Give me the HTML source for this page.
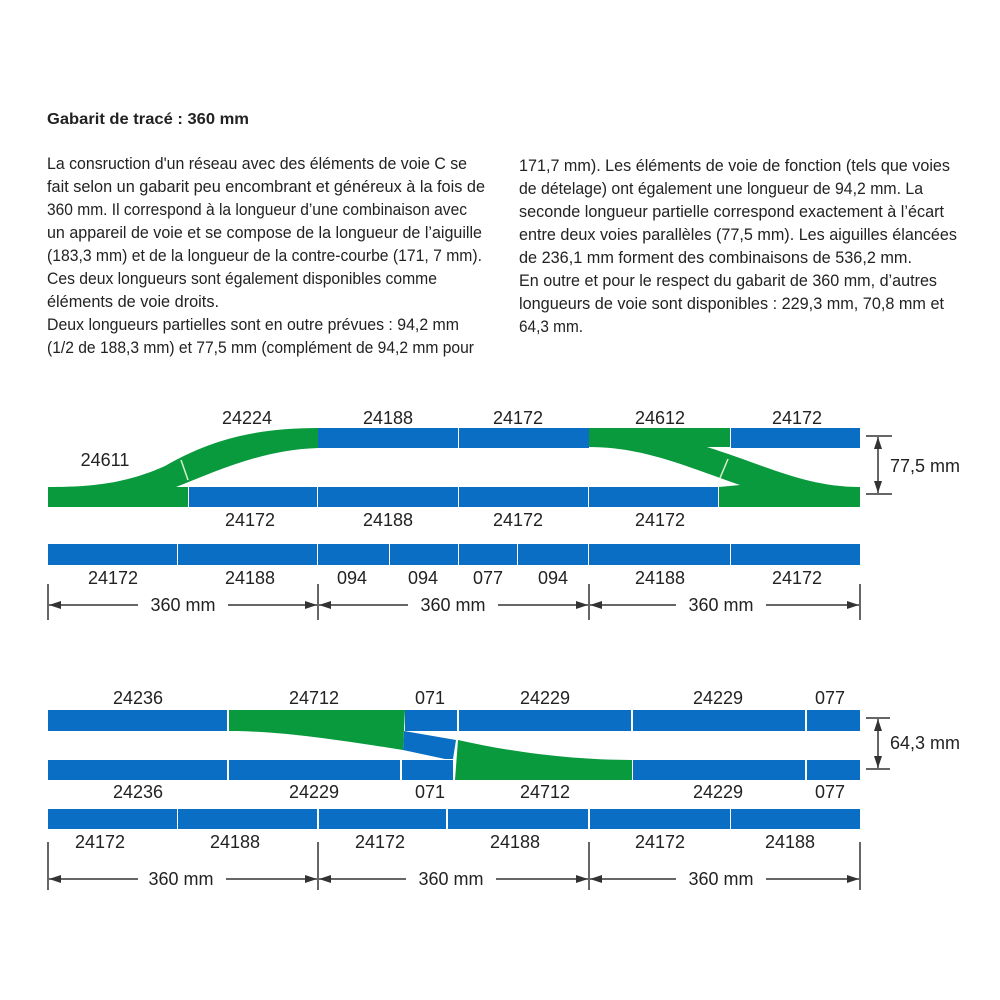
<!DOCTYPE html>
<html><head><meta charset="utf-8"><style>
html,body{margin:0;padding:0;background:#fff;}
svg{display:block;}
text{font-family:"Liberation Sans",Arial,sans-serif;fill:#222;}
</style></head><body>
<svg width="1000" height="1000" viewBox="0 0 1000 1000" xmlns="http://www.w3.org/2000/svg">
<rect width="1000" height="1000" fill="#fff"/>
<text x="47" y="124" font-size="16" font-weight="bold" textLength="202" lengthAdjust="spacingAndGlyphs">Gabarit de tracé : 360 mm</text>
<g font-size="17">
<text x="47" y="169" textLength="420" lengthAdjust="spacingAndGlyphs">La consruction d'un réseau avec des éléments de voie C se</text>
<text x="47" y="192" textLength="438" lengthAdjust="spacingAndGlyphs">fait selon un gabarit peu encombrant et généreux à la fois de</text>
<text x="47" y="215" textLength="420" lengthAdjust="spacingAndGlyphs">360 mm. Il correspond à la longueur d’une combinaison avec</text>
<text x="47" y="238" textLength="435" lengthAdjust="spacingAndGlyphs">un appareil de voie et se compose de la longueur de l’aiguille</text>
<text x="47" y="261" textLength="435" lengthAdjust="spacingAndGlyphs">(183,3 mm) et de la longueur de la contre-courbe (171, 7 mm).</text>
<text x="47" y="284" textLength="390" lengthAdjust="spacingAndGlyphs">Ces deux longueurs sont également disponibles comme</text>
<text x="47" y="307" textLength="172" lengthAdjust="spacingAndGlyphs">éléments de voie droits.</text>
<text x="47" y="330" textLength="412" lengthAdjust="spacingAndGlyphs">Deux longueurs partielles sont en outre prévues : 94,2 mm</text>
<text x="47" y="353" textLength="427" lengthAdjust="spacingAndGlyphs">(1/2 de 188,3 mm) et 77,5 mm (complément de 94,2 mm pour</text>
<text x="519" y="171" textLength="431" lengthAdjust="spacingAndGlyphs">171,7 mm). Les éléments de voie de fonction (tels que voies</text>
<text x="519" y="194" textLength="404" lengthAdjust="spacingAndGlyphs">de dételage) ont également une longueur de 94,2 mm. La</text>
<text x="519" y="217" textLength="425" lengthAdjust="spacingAndGlyphs">seconde longueur partielle correspond exactement à l’écart</text>
<text x="519" y="240" textLength="438" lengthAdjust="spacingAndGlyphs">entre deux voies parallèles (77,5 mm). Les aiguilles élancées</text>
<text x="519" y="263" textLength="393" lengthAdjust="spacingAndGlyphs">de 236,1 mm  forment des combinaisons de 536,2 mm.</text>
<text x="519" y="286" textLength="418" lengthAdjust="spacingAndGlyphs">En outre et pour le respect du gabarit de 360 mm, d’autres</text>
<text x="519" y="309" textLength="425" lengthAdjust="spacingAndGlyphs">longueurs de voie sont disponibles : 229,3 mm, 70,8 mm et</text>
<text x="519" y="332" textLength="64" lengthAdjust="spacingAndGlyphs">64,3 mm.</text>
</g>

<defs>
<marker id="ar" viewBox="0 0 12 8" refX="12" refY="4" markerWidth="12" markerHeight="8" markerUnits="userSpaceOnUse" orient="auto-start-reverse"><path d="M0,0 L12,4 L0,8 Z" fill="#333"/></marker>
</defs>

<!-- ===== upper diagram ===== -->
<g fill="#0a6fc4">
<rect x="318" y="428" width="140" height="20"/><rect x="459" y="428" width="130" height="20"/><rect x="731" y="428" width="129" height="20"/>
<rect x="189" y="487" width="128" height="20"/><rect x="318" y="487" width="140" height="20"/><rect x="459" y="487" width="129" height="20"/><rect x="589" y="487" width="129" height="20"/>
<rect x="48" y="544" width="129" height="21"/><rect x="178" y="544" width="139" height="21"/><rect x="318" y="544" width="71" height="21"/><rect x="390" y="544" width="68" height="21"/><rect x="459" y="544" width="58" height="21"/><rect x="518" y="544" width="70" height="21"/><rect x="589" y="544" width="141" height="21"/><rect x="731" y="544" width="129" height="21"/>
</g>
<g fill="#0a9a3e">
<path d="M48,507 L188,507 L188,487 L176,487 C215,472 260,450 318,448 L318,428 C255,428 210,440 165,466 C125,484 90,487 48,487 Z"/>
<path d="M589,428 L730,428 L730,447 L707,447 C765,465 805,487 860,487 L860,507 L719,507 L719,487 L740,485 C690,468 645,447 589,447 Z"/>
</g>
<line x1="181" y1="460" x2="188" y2="480" stroke="#d8f0c8" stroke-width="1.5"/>
<line x1="728" y1="459" x2="720" y2="478" stroke="#d8f0c8" stroke-width="1.5"/>

<g font-size="18" text-anchor="middle">
<text x="105" y="466">24611</text><text x="247" y="424">24224</text><text x="388" y="424">24188</text><text x="518" y="424">24172</text><text x="660" y="424">24612</text><text x="797" y="424">24172</text>
<text x="250" y="526">24172</text><text x="388" y="526">24188</text><text x="518" y="526">24172</text><text x="660" y="526">24172</text>
<text x="113" y="584">24172</text><text x="250" y="584">24188</text><text x="352" y="584">094</text><text x="423" y="584">094</text><text x="488" y="584">077</text><text x="553" y="584">094</text><text x="660" y="584">24188</text><text x="797" y="584">24172</text>
<text x="183" y="611">360 mm</text><text x="453" y="611">360 mm</text><text x="721" y="611">360 mm</text>
<text x="925" y="472">77,5 mm</text>
</g>
<g stroke="#333" stroke-width="1.5" fill="none">
<line x1="48" y1="584" x2="48" y2="620"/><line x1="318" y1="584" x2="318" y2="620"/><line x1="589" y1="584" x2="589" y2="620"/><line x1="860" y1="584" x2="860" y2="620"/>
<line x1="49" y1="605" x2="138" y2="605" marker-start="url(#ar)"/><line x1="228" y1="605" x2="317" y2="605" marker-end="url(#ar)"/>
<line x1="319" y1="605" x2="408" y2="605" marker-start="url(#ar)"/><line x1="498" y1="605" x2="588" y2="605" marker-end="url(#ar)"/>
<line x1="590" y1="605" x2="676" y2="605" marker-start="url(#ar)"/><line x1="766" y1="605" x2="859" y2="605" marker-end="url(#ar)"/>
<line x1="866" y1="436" x2="892" y2="436"/><line x1="866" y1="494" x2="892" y2="494"/>
<line x1="878" y1="437" x2="878" y2="493" marker-start="url(#ar)" marker-end="url(#ar)"/>
</g>

<!-- ===== lower diagram ===== -->
<g fill="#0a6fc4">
<rect x="48" y="710" width="179" height="21"/><rect x="405" y="710" width="52" height="21"/><rect x="459" y="710" width="172" height="21"/><rect x="633" y="710" width="172" height="21"/><rect x="807" y="710" width="53" height="21"/>
<rect x="48" y="760" width="179" height="20"/><rect x="229" y="760" width="171" height="20"/><rect x="402" y="760" width="51" height="20"/><rect x="633" y="760" width="172" height="20"/><rect x="807" y="760" width="53" height="20"/>
<rect x="48" y="809" width="129" height="20"/><rect x="178" y="809" width="139" height="20"/><rect x="319" y="809" width="127" height="20"/><rect x="448" y="809" width="140" height="20"/><rect x="590" y="809" width="140" height="20"/><rect x="731" y="809" width="129" height="20"/>
<path d="M404,731 L456,740 L453,759 L445,759 L403,750 Z"/>
</g>
<g fill="#0a9a3e">
<path d="M229,710 L405,710 L404,730 L403,750 C340,740 280,731 229,731 Z"/>
<path d="M458,740 C520,754 580,760 632,760 L632,780 L455,780 Z"/>
</g>
<g font-size="18" text-anchor="middle">
<text x="138" y="704">24236</text><text x="314" y="704">24712</text><text x="430" y="704">071</text><text x="545" y="704">24229</text><text x="718" y="704">24229</text><text x="830" y="704">077</text>
<text x="138" y="798">24236</text><text x="314" y="798">24229</text><text x="430" y="798">071</text><text x="545" y="798">24712</text><text x="718" y="798">24229</text><text x="830" y="798">077</text>
<text x="100" y="848">24172</text><text x="235" y="848">24188</text><text x="380" y="848">24172</text><text x="515" y="848">24188</text><text x="660" y="848">24172</text><text x="790" y="848">24188</text>
<text x="181" y="885">360 mm</text><text x="451" y="885">360 mm</text><text x="721" y="885">360 mm</text>
<text x="925" y="749">64,3 mm</text>
</g>
<g stroke="#333" stroke-width="1.5" fill="none">
<line x1="48" y1="842" x2="48" y2="890"/><line x1="318" y1="842" x2="318" y2="890"/><line x1="589" y1="842" x2="589" y2="890"/><line x1="860" y1="842" x2="860" y2="890"/>
<line x1="49" y1="879" x2="138" y2="879" marker-start="url(#ar)"/><line x1="226" y1="879" x2="317" y2="879" marker-end="url(#ar)"/>
<line x1="319" y1="879" x2="406" y2="879" marker-start="url(#ar)"/><line x1="496" y1="879" x2="588" y2="879" marker-end="url(#ar)"/>
<line x1="590" y1="879" x2="676" y2="879" marker-start="url(#ar)"/><line x1="766" y1="879" x2="859" y2="879" marker-end="url(#ar)"/>
<line x1="866" y1="718" x2="890" y2="718"/><line x1="866" y1="769" x2="890" y2="769"/>
<line x1="878" y1="719" x2="878" y2="768" marker-start="url(#ar)" marker-end="url(#ar)"/>
</g>
</svg>
</body></html>
